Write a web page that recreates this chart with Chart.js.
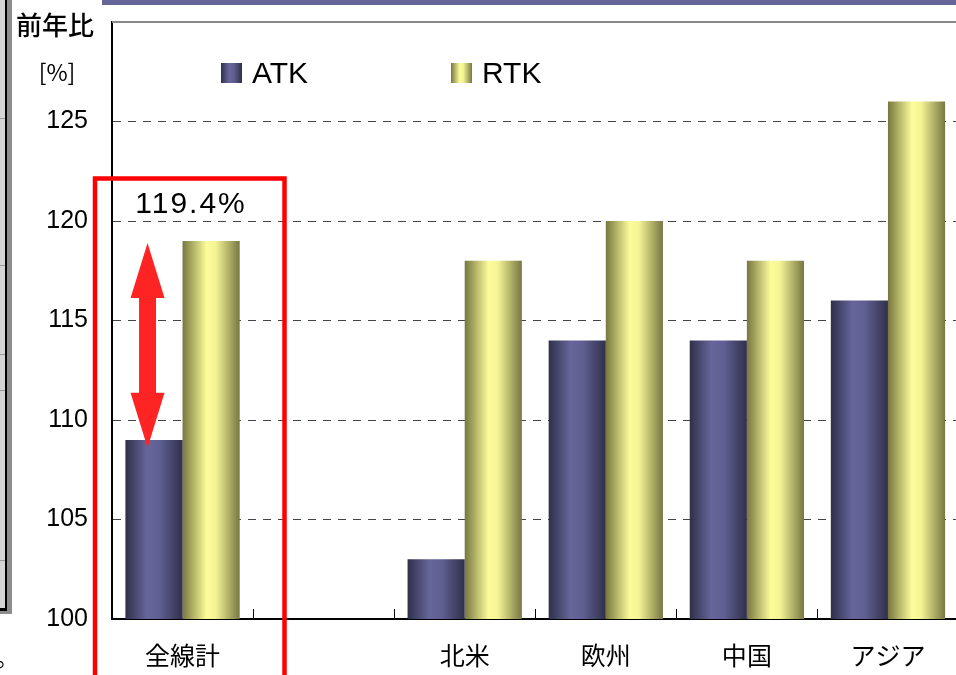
<!DOCTYPE html>
<html lang="ja">
<head>
<meta charset="utf-8">
<title>前年比 ATK / RTK</title>
<script src="https://cdn.jsdelivr.net/npm/chart.js@4.4.0/dist/chart.umd.min.js"></script>
<style>
  html, body { margin: 0; padding: 0; background: #fff; overflow: hidden; }
  body { width: 956px; height: 675px; position: relative; }
  #chart { position: absolute; left: 0; top: 0; }
  .strip { position: absolute; }
  .topbar { left: 102px; top: 0; width: 854px; height: 5px; background: #65659a; }
  .dot { position: absolute; left: -4px; top: 640px; font: 22px "Noto Sans CJK JP"; color: #000; }
</style>
</head>
<body>
<canvas id="chart" width="980" height="675"></canvas>
<div class="strip topbar"></div>
<div class="strip" style="left:0;top:0;width:5px;height:608px;background:#d4d4d4"></div>
<div class="strip" style="left:0;top:118px;width:5px;height:1px;background:#999"></div>
<div class="strip" style="left:0;top:265px;width:5px;height:1px;background:#999"></div>
<div class="strip" style="left:0;top:354px;width:5px;height:1px;background:#999"></div>
<div class="strip" style="left:0;top:390px;width:5px;height:1px;background:#999"></div>
<div class="strip" style="left:0;top:560px;width:5px;height:1px;background:#999"></div>
<div class="strip" style="left:5px;top:0;width:2px;height:611px;background:#000"></div>
<div class="strip" style="left:0;top:608px;width:7px;height:3px;background:#000"></div>
<div class="strip" style="left:7px;top:0;width:5px;height:614px;background:#8c8c8c"></div>
<div class="strip" style="left:0;top:611px;width:12px;height:3px;background:#8c8c8c"></div>
<span class="dot">。</span>
<script>
// データ
const categories = ['全線計', '', '北米', '欧州', '中国', 'アジア'];
const atkValues = [109, null, 103, 114, 114, 116];
const rtkValues = [119, null, 118, 120, 118, 126];
const seriesNames = ['ATK', 'RTK'];
const yMin = 100;
const yMax = 130;
const yStep = 5;
const highlightText = '119.4%';

const CAT_PCT = 0.81;

// 円柱っぽいグラデーション
const atkStops = [[0, '#2f2f4a'], [0.38, '#66669b'], [0.6, '#5f5f92'], [1, '#30304b']];
const rtkStops = [[0, '#77773f'], [0.42, '#fcfc9a'], [0.58, '#f4f495'], [1, '#777742']];

function makeGradient(ctx2d, left, width, stops) {
  const g = ctx2d.createLinearGradient(left, 0, left + width, 0);
  stops.forEach(s => g.addColorStop(s[0], s[1]));
  return g;
}

function barColor(stops, side) {
  return (c) => {
    const chart = c.chart;
    const xs = chart.scales.x;
    if (!xs || c.dataIndex === undefined || !chart.chartArea) return stops[1][1];
    const center = xs.getPixelForValue(c.dataIndex);
    const catW = xs.width / categories.length;
    const bw = catW * CAT_PCT / 2;
    const left = side === 0 ? center - bw : center;
    return makeGradient(chart.ctx, left, bw, stops);
  };
}

const decorPlugin = {
  id: 'decor',
  afterDatasetsDraw(chart) {
    const ctx = chart.ctx;
    const area = chart.chartArea;
    const xs = chart.scales.x;
    const ys = chart.scales.y;
    const catW = xs.width / categories.length;
    ctx.save();

    // 上枠
    ctx.strokeStyle = '#888';
    ctx.lineWidth = 2;
    ctx.beginPath();
    ctx.moveTo(area.left, area.top);
    ctx.lineTo(area.right, area.top);
    ctx.stroke();

    // 区切りの目盛り（内向き）
    ctx.strokeStyle = '#000';
    ctx.lineWidth = 1;
    for (let i = 1; i < categories.length; i++) {
      const x = Math.round(xs.left + i * catW) + 0.5;
      ctx.beginPath();
      ctx.moveTo(x, area.bottom);
      ctx.lineTo(x, area.bottom - 10);
      ctx.stroke();
    }

    // 軸タイトル
    ctx.fillStyle = '#000';
    ctx.textAlign = 'left';
    ctx.textBaseline = 'middle';
    ctx.font = '500 26px "Noto Sans CJK JP"';
    ctx.fillText('前年比', 16, 25);
    ctx.textAlign = 'center';
    ctx.font = '23px "Noto Sans CJK JP"';
    ctx.fillText('[%]', 57, 72);

    // 凡例
    const legendItems = [
      { x: 221, stops: atkStops, label: seriesNames[0] },
      { x: 451, stops: rtkStops, label: seriesNames[1] }
    ];
    ctx.font = '30px "Liberation Sans"';
    ctx.textAlign = 'left';
    legendItems.forEach(it => {
      ctx.fillStyle = makeGradient(ctx, it.x, 21, it.stops);
      ctx.fillRect(it.x, 63, 21, 20);
      ctx.fillStyle = '#000';
      ctx.fillText(it.label, it.x + 31, 75);
    });

    // 赤い枠
    ctx.strokeStyle = '#ff0000';
    ctx.lineWidth = 4.5;
    ctx.strokeRect(95, 178.5, 189.5, 520);

    // 119.4%
    ctx.fillStyle = '#000';
    ctx.textAlign = 'center';
    ctx.font = '30px "Liberation Sans"';
    ctx.letterSpacing = '2px';
    ctx.fillText(highlightText, 191, 205);
    ctx.letterSpacing = '0px';

    // 両矢印
    const ax = xs.getPixelForValue(0) - 35;
    const yTop = ys.getPixelForValue(rtkValues[0] - 0.1);
    const yBot = ys.getPixelForValue(atkValues[0] - 0.4);
    const headH = 55, headW = 17, shaftW = 8.5;
    ctx.fillStyle = '#ff2424';
    ctx.beginPath();
    ctx.moveTo(ax, yTop);
    ctx.lineTo(ax + headW, yTop + headH);
    ctx.lineTo(ax + shaftW, yTop + headH);
    ctx.lineTo(ax + shaftW, yBot - headH);
    ctx.lineTo(ax + headW, yBot - headH);
    ctx.lineTo(ax, yBot);
    ctx.lineTo(ax - headW, yBot - headH);
    ctx.lineTo(ax - shaftW, yBot - headH);
    ctx.lineTo(ax - shaftW, yTop + headH);
    ctx.lineTo(ax - headW, yTop + headH);
    ctx.closePath();
    ctx.fill();

    ctx.restore();
  }
};

new Chart(document.getElementById('chart').getContext('2d'), {
  type: 'bar',
  data: {
    labels: categories,
    datasets: [
      {
        label: seriesNames[0],
        data: atkValues,
        backgroundColor: barColor(atkStops, 0),
        borderWidth: 0,
        categoryPercentage: CAT_PCT,
        barPercentage: 1
      },
      {
        label: seriesNames[1],
        data: rtkValues,
        backgroundColor: barColor(rtkStops, 1),
        borderWidth: 0,
        categoryPercentage: CAT_PCT,
        barPercentage: 1
      }
    ]
  },
  options: {
    responsive: false,
    devicePixelRatio: 1,
    animation: false,
    layout: { padding: { top: 22, right: 21.5, left: 0, bottom: 0 } },
    plugins: {
      legend: { display: false },
      tooltip: { enabled: false }
    },
    scales: {
      x: {
        offset: true,
        grid: { display: false },
        border: { display: true, color: '#000', width: 2 },
        ticks: {
          color: '#000',
          padding: 13,
          maxRotation: 0,
          font: { family: '"Noto Sans CJK JP"', size: 25 }
        },
        afterFit(scale) {
          scale.height = 56;
          scale.paddingLeft = 0;
          scale.paddingRight = 0;
        }
      },
      y: {
        min: yMin,
        max: yMax,
        grid: {
          drawTicks: false,
          color: (c) => (c.tick && (c.tick.value === yMin || c.tick.value === yMax)) ? 'rgba(0,0,0,0)' : '#444',
          lineWidth: 1
        },
        border: { display: true, color: '#000', width: 2, dash: [8, 7] },
        ticks: {
          stepSize: yStep,
          color: '#000',
          padding: 24,
          font: { family: '"Liberation Sans"', size: 25 },
          callback: (v) => (v === yMax ? '' : v)
        },
        afterFit(scale) {
          scale.width = 112;
          scale.paddingTop = 0;
          scale.paddingBottom = 0;
        }
      }
    }
  },
  plugins: [decorPlugin]
});
</script>
</body>
</html>
